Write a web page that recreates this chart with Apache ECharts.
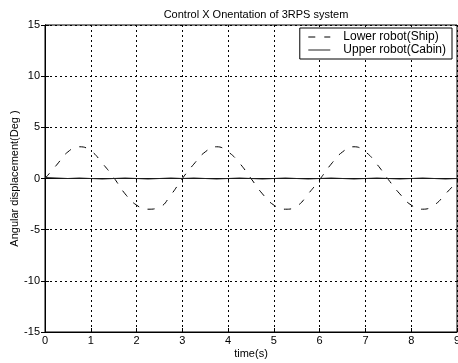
<!DOCTYPE html>
<html><head><meta charset="utf-8">
<script src="https://cdn.jsdelivr.net/npm/echarts@6/dist/echarts.min.js"></script>
<style>html,body{margin:0;padding:0;background:#fff}#c{width:458px;height:363px}</style>
</head><body><div id="c"></div>
<script>
var titleText = "Control X Onentation of 3RPS system";
var xName = "time(s)";
var yName = "Angular displacement(Deg )";
var seriesNames = ["Lower robot(Ship)", "Upper robot(Cabin)"];
var timeValues = [0,0.25,0.5,0.75,1,1.25,1.5,1.75,2,2.25,2.5,2.75,3,3.25,3.5,3.75,4,4.25,4.5,4.75,5,5.25,5.5,5.75,6,6.25,6.5,6.75,7,7.25,7.5,7.75,8,8.25,8.5,8.75,9];
var lowerShip = [0,1.3,2.6,3.1,2.7,1.5,0.1,-1.5,-2.6,-3.0,-2.8,-1.6,0,1.4,2.6,3.1,2.6,1.5,0.0,-1.5,-2.6,-3.0,-2.7,-1.5,-0.1,1.4,2.6,3.1,2.6,1.4,-0.1,-1.5,-2.6,-3.0,-2.6,-1.5,-0.3];
var upperCabin = [0.1,0.05,0,0.05,0,-0.05,0,0.05,0,-0.05,0,0.05,0,0.05,0,-0.05,0,0.05,0,-0.05,0,0.05,0,-0.05,0,0.05,0,-0.05,0,0.05,0,-0.05,0,0.05,0,-0.05,0];
var xTicks = {min:0, max:9, interval:1};
var yTicks = {min:-15, max:15, interval:5};

function pairs(xs, ys){ return xs.map(function(x,i){return [x, ys[i]];}); }
var font = "Liberation Sans, Arial, sans-serif";
var chart = echarts.init(document.getElementById('c'));
var splitDotted = {show:true, lineStyle:{color:'#000', type:[2,3], width:1}};
chart.setOption({
  animation:false,
  title:{text:titleText, left:251, top:4, textAlign:'center', textStyle:{fontFamily:font, fontSize:11, fontWeight:'normal', color:'#000'}},
  grid:{left:45, right:1, top:25, bottom:31, show:true, borderColor:'#000', borderWidth:1, containLabel:false, outerBoundsMode:'none'},
  legend:{right:6, top:28, orient:'vertical', itemGap:1, itemWidth:22, itemHeight:8,
    borderColor:'#000', borderWidth:1, padding:[3,6,3,8], backgroundColor:'#fff',
    textStyle:{fontFamily:font, fontSize:12, color:'#000', padding:[0,0,0,8]},
    itemStyle:{opacity:0}, lineStyle:{width:1},
    data:seriesNames},
  xAxis:[{type:'value', min:xTicks.min, max:xTicks.max, interval:xTicks.interval,
    name:xName, nameLocation:'middle', nameGap:16, nameMoveOverlap:false, nameTextStyle:{fontFamily:font, fontSize:11, color:'#000'},
    axisLine:{show:true, onZero:false, lineStyle:{color:'#000'}}, axisTick:{inside:true, length:4, lineStyle:{color:'#000'}},
    axisLabel:{fontFamily:font, fontSize:11, color:'#000', margin:3}, splitLine:splitDotted},
    {type:'value', position:'top', min:xTicks.min, max:xTicks.max, interval:xTicks.interval,
    axisLine:{show:true, lineStyle:{color:'#000'}}, axisTick:{inside:true, length:4, lineStyle:{color:'#000'}}, axisLabel:{show:false}, splitLine:{show:false}}],
  yAxis:[{type:'value', min:yTicks.min, max:yTicks.max, interval:yTicks.interval,
    name:yName, nameLocation:'middle', nameGap:25, nameMoveOverlap:false, nameTextStyle:{fontFamily:font, fontSize:11, color:'#000'},
    axisLine:{show:true, onZero:false, lineStyle:{color:'#000'}}, axisTick:{inside:true, length:4, lineStyle:{color:'#000'}},
    axisLabel:{fontFamily:font, fontSize:11, color:'#000', margin:5}, splitLine:splitDotted},
    {type:'value', position:'right', min:yTicks.min, max:yTicks.max, interval:yTicks.interval,
    axisLine:{show:true, lineStyle:{color:'#000'}}, axisTick:{inside:true, length:4, lineStyle:{color:'#000'}}, axisLabel:{show:false}, splitLine:{show:false}}],
  series:[
    {name:seriesNames[0], type:'line', symbol:'none', smooth:true, data:pairs(timeValues, lowerShip),
      lineStyle:{color:'#000', width:1, type:[7,9]}, itemStyle:{color:'#000'}},
    {name:seriesNames[1], type:'line', symbol:'none', data:pairs(timeValues, upperCabin),
      lineStyle:{color:'#222', width:1.2}, itemStyle:{color:'#000'}}
  ]
});
</script></body></html>
